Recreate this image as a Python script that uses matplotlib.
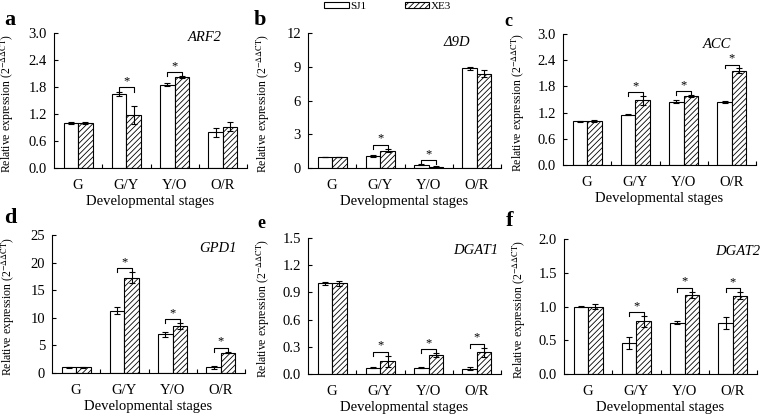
import matplotlib
matplotlib.use('Agg')
import matplotlib.pyplot as plt
import numpy as np

plt.rcParams['font.family'] = ['Liberation Serif', 'DejaVu Serif']
plt.rcParams['mathtext.fontset'] = 'stix'
plt.rcParams['hatch.linewidth'] = 0.6

stages = ['G', 'G/Y', 'Y/O', 'O/R']

# gene panels: SJ1 / XE3 means and error bars
genes = ['ARF2', 'Δ9D', 'ACC', 'GPD1', 'DGAT1', 'DGAT2']
panel_tags = ['a', 'b', 'c', 'd', 'e', 'f']

sj1_mean = [
    [1.00, 1.65, 1.85, 0.80],
    [1.00, 1.10, 0.30, 8.85],
    [1.00, 1.15, 1.45, 1.44],
    [1.00, 11.3, 7.0, 1.0],
    [1.00, 0.07, 0.07, 0.06],
    [1.00, 0.46, 0.76, 0.75],
]
sj1_err = [
    [0.03, 0.05, 0.03, 0.10],
    [0.02, 0.08, 0.06, 0.15],
    [0.01, 0.01, 0.04, 0.03],
    [0.05, 0.7, 0.4, 0.3],
    [0.02, 0.003, 0.005, 0.015],
    [0.01, 0.09, 0.02, 0.09],
]
xe3_mean = [
    [1.00, 1.17, 2.02, 0.92],
    [1.00, 1.55, 0.12, 8.40],
    [1.00, 1.48, 1.58, 2.16],
    [1.00, 17.3, 8.5, 3.7],
    [1.00, 0.14, 0.21, 0.24],
    [1.00, 0.78, 1.17, 1.16],
]
xe3_err = [
    [0.02, 0.20, 0.02, 0.10],
    [0.02, 0.15, 0.03, 0.30],
    [0.02, 0.10, 0.02, 0.05],
    [0.05, 1.0, 0.5, 0.15],
    [0.03, 0.06, 0.02, 0.05],
    [0.03, 0.08, 0.05, 0.05],
]
# stages marked with an asterisk
signif = [
    [1, 2],
    [1, 2],
    [1, 2, 3],
    [1, 2, 3],
    [1, 2, 3],
    [1, 2, 3],
]
ymax = [3.0, 12, 3.0, 25, 1.5, 2.0]
ystep = [0.6, 3, 0.6, 5, 0.3, 0.5]
yfmt = ['%.1f', '%d', '%.1f', '%d', '%.1f', '%.1f']

# axes boxes in pixels: left, right, top, bottom
W, H = 760, 416
boxes = [
    (54, 247, 33, 168),
    (308, 501, 33, 168),
    (563, 756, 34, 165),
    (52, 245, 235, 373),
    (308, 501, 238, 374),
    (564, 757, 239, 374),
]
ylab_off = [38, 36, 36, 35, 36, 36]
tag_pos = [(10, 20), (260, 20), (508, 21), (10, 218), (261, 224), (510, 221)]
tag_size = [16, 16, 13, 16, 13, 16]
gene_pos = [(0.78, 0.97), (0.77, 0.93), (0.80, 0.92), (0.86, 0.90), (0.87, 0.91), (0.90, 0.91)]

fig = plt.figure(figsize=(W / 100, H / 100), dpi=100)

x = np.arange(len(stages))
bw = 0.3
handles = None
for k in range(6):
    l, r, t, b = boxes[k]
    ax = fig.add_axes([l / W, 1 - b / H, (r - l) / W, (b - t) / H])
    b1 = ax.bar(x - bw / 2, sj1_mean[k], bw, color='white', edgecolor='black', linewidth=0.8,
                yerr=sj1_err[k], error_kw=dict(ecolor='black', elinewidth=0.8, capsize=2.5, capthick=0.8))
    b2 = ax.bar(x + bw / 2, xe3_mean[k], bw, color='white', edgecolor='black', linewidth=0.8,
                hatch='//////', yerr=xe3_err[k],
                error_kw=dict(ecolor='black', elinewidth=0.8, capsize=2.5, capthick=0.8))
    if handles is None:
        handles = [b1, b2]

    # significance brackets
    for i in signif[k]:
        top = max(sj1_mean[k][i] + sj1_err[k][i], xe3_mean[k][i] + xe3_err[k][i])
        yb = top + 0.03 * ymax[k]
        leg = 0.03 * ymax[k]
        ax.plot([i - bw / 2, i - bw / 2, i + bw / 2, i + bw / 2], [yb - leg, yb, yb, yb - leg],
                color='black', lw=0.8)
        ax.text(i, yb, '*', ha='center', va='bottom', fontsize=9)

    ax.set_xlim(-0.5, 3.5)
    ax.set_ylim(0, ymax[k])
    ax.set_yticks(np.arange(0, ymax[k] + ystep[k] / 2, ystep[k]))
    ax.yaxis.set_major_formatter(matplotlib.ticker.FormatStrFormatter(yfmt[k]))
    ax.set_xticks(x)
    ax.set_xticklabels(stages)
    ax.set_xticks([0.5, 1.5, 2.5, 3.5], minor=True)
    ax.tick_params(axis='x', which='major', length=0, pad=8, labelsize=10.5)
    ax.tick_params(axis='x', which='minor', direction='in', length=3, width=0.8)
    ax.tick_params(axis='y', direction='in', length=3, width=0.8, labelsize=10.5, pad=5)
    for s in ['top', 'right']:
        ax.spines[s].set_visible(False)
    for s in ['left', 'bottom']:
        ax.spines[s].set_linewidth(0.8)

    ax.set_xlabel('Developmental stages', fontsize=10.5, labelpad=2)
    ax.set_ylabel(r'Relative expression (2$^{\mathrm{-\Delta\Delta CT}}$)', fontsize=8.5)
    ax.yaxis.set_label_coords(-ylab_off[k] / (r - l), 0.48)

    ax.text(gene_pos[k][0], gene_pos[k][1], genes[k], transform=ax.transAxes,
            ha='center', va='center', fontsize=10.5, style='italic')
    fig.text(tag_pos[k][0] / W, 1 - tag_pos[k][1] / H, panel_tags[k], ha='center', va='center',
             fontsize=tag_size[k], fontweight='bold')

fig.legend(handles, ['SJ1', 'XE3'], loc='upper center', bbox_to_anchor=(0.51, 1.02), ncol=2,
           frameon=False, fontsize=8, handlelength=2.2, handleheight=0.5, handletextpad=0.1,
           columnspacing=3.5)

fig.savefig('out.png', dpi=100)
